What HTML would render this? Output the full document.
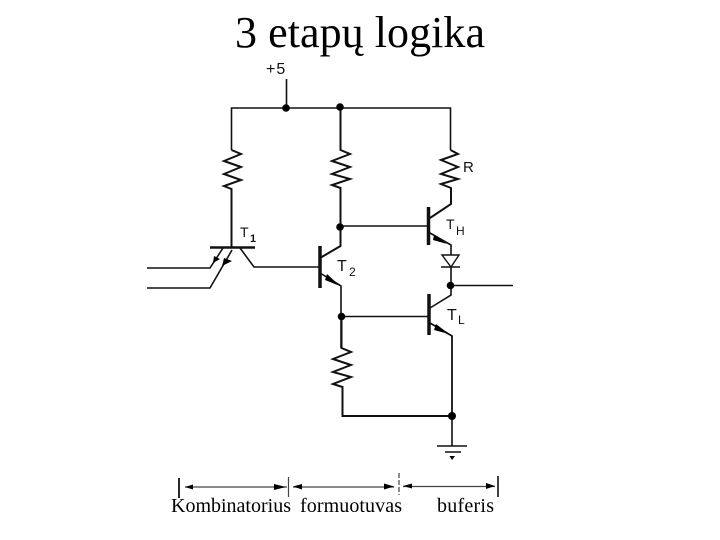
<!DOCTYPE html>
<html>
<head>
<meta charset="utf-8">
<style>
html,body{margin:0;padding:0;background:#fff;width:720px;height:540px;overflow:hidden}
svg{display:block}
.t{font-family:"Liberation Serif",serif;fill:#000}
.s{font-family:"Liberation Sans",sans-serif;fill:#111}
</style>
</head>
<body>
<svg width="720" height="540" viewBox="0 0 720 540" xmlns="http://www.w3.org/2000/svg">
<text class="t" x="235" y="47" font-size="44" textLength="250" lengthAdjust="spacing">3 etapų logika</text>
<text class="s" x="266" y="74" font-size="16" letter-spacing="1">+5</text>

<g fill="none" stroke="#111" stroke-width="1.6" stroke-linejoin="miter">
<!-- rails -->
<path d="M286.5 79V108M231.5 150V108H450.5V150"/>
<!-- resistor 1 -->
<path d="M231.5 150L241 154L224 161L241 167L224 174L241 180L224 186L231.5 189V247" stroke-width="2"/>
<!-- resistor 2 -->
<path d="M340.5 108V150L350 154L332 161L350 167L332 174L350 179L332 185L340.5 188V246L320 258" stroke-width="2"/>
<!-- resistor R -->
<path d="M450.5 150L458 154L441 160L458 167L441 174L458 179L441 184L451 188V204L430 218" stroke-width="2"/>
<!-- T1 -->
<path d="M210 247.5H255" stroke-width="2.5"/>
<path d="M147 268H210L223 248M147 288H210L232 250M240 248L254 267H320"/>
<!-- T2 -->
<path d="M320 246V288" stroke-width="3.5"/>
<path d="M320 273L341 286V348"/>
<!-- bases -->
<path d="M341 226H428M341 316.5H429"/>
<!-- TH -->
<path d="M428.5 207V245" stroke-width="3.5"/>
<path d="M430 233L451 245V255"/>
<!-- diode -->
<path d="M442 255H459L451 267ZM441 267H460" stroke-width="1.4"/>
<path d="M451 267V295L430 308"/>
<path d="M451 285.5H513"/>
<!-- TL -->
<path d="M429 294V335" stroke-width="3.5"/>
<path d="M430 323L452 336V416" stroke-width="1.8"/>
<!-- lower resistor -->
<path d="M341.5 316V348L351 352L333 359L351 365L333 372L351 377L333 384L342.5 387V416H452" stroke-width="2"/>
<!-- ground -->
<path d="M452 416V446M437 446H467M445 452H461"/>
</g>

<g fill="#000">
<circle cx="286" cy="108" r="3.8"/>
<circle cx="340" cy="107" r="3.8"/>
<circle cx="340" cy="227" r="3.8"/>
<circle cx="341.5" cy="316.5" r="3.8"/>
<circle cx="450.5" cy="285.5" r="3.8"/>
<circle cx="452" cy="416" r="4"/>
<path d="M449.5 456H455L452 460Z"/>
<!-- transistor arrows -->
<path d="M213 263L214 256L220 259Z"/>
<path d="M222 266L224 258L232 261Z"/>
<path d="M340 286L327 274L325 280Z"/>
<path d="M447 244L434 235L433 240Z"/>
<path d="M449 334L436 324L434 330Z"/>
</g>

<!-- dimension lines -->
<g fill="none" stroke="#444" stroke-width="1.2">
<path d="M179 478V498" stroke="#111" stroke-width="1.8"/>
<path d="M288.5 477V497"/>
<path d="M399 473V495" stroke-dasharray="5 2"/>
<path d="M498 476V497" stroke="#111" stroke-width="1.6"/>
<path d="M185 487H287M293 487H394M403 486.5H495"/>
</g>
<g fill="#000">
<path d="M185 487L193 484.5V489.5Z"/>
<path d="M286 487L274 484V490Z"/>
<path d="M293 486.5L302 484V489.5Z"/>
<path d="M394 486.5L384 483.5V489.5Z"/>
<path d="M403 486L412 483.5V488.5Z"/>
<path d="M495 486L486 483V489Z"/>
</g>

<text class="t" x="171" y="512" font-size="20" textLength="120" lengthAdjust="spacing">Kombinatorius</text>
<text class="t" x="300" y="512" font-size="20" textLength="102" lengthAdjust="spacing">formuotuvas</text>
<text class="t" x="437" y="512" font-size="20" textLength="57" lengthAdjust="spacing">buferis</text>

<text class="s" x="240" y="237" font-size="14">T</text><text class="s" x="250" y="242" font-size="11" font-weight="bold">1</text>
<text class="s" x="337" y="271" font-size="16">T</text><text class="s" x="349" y="276" font-size="12">2</text>
<text class="s" x="463" y="172" font-size="15">R</text>
<text class="s" x="446" y="229" font-size="14">T</text><text class="s" x="456" y="235" font-size="12">H</text>
<text class="s" x="447" y="320" font-size="16">T</text><text class="s" x="458" y="324" font-size="12">L</text>
</svg>
</body>
</html>
